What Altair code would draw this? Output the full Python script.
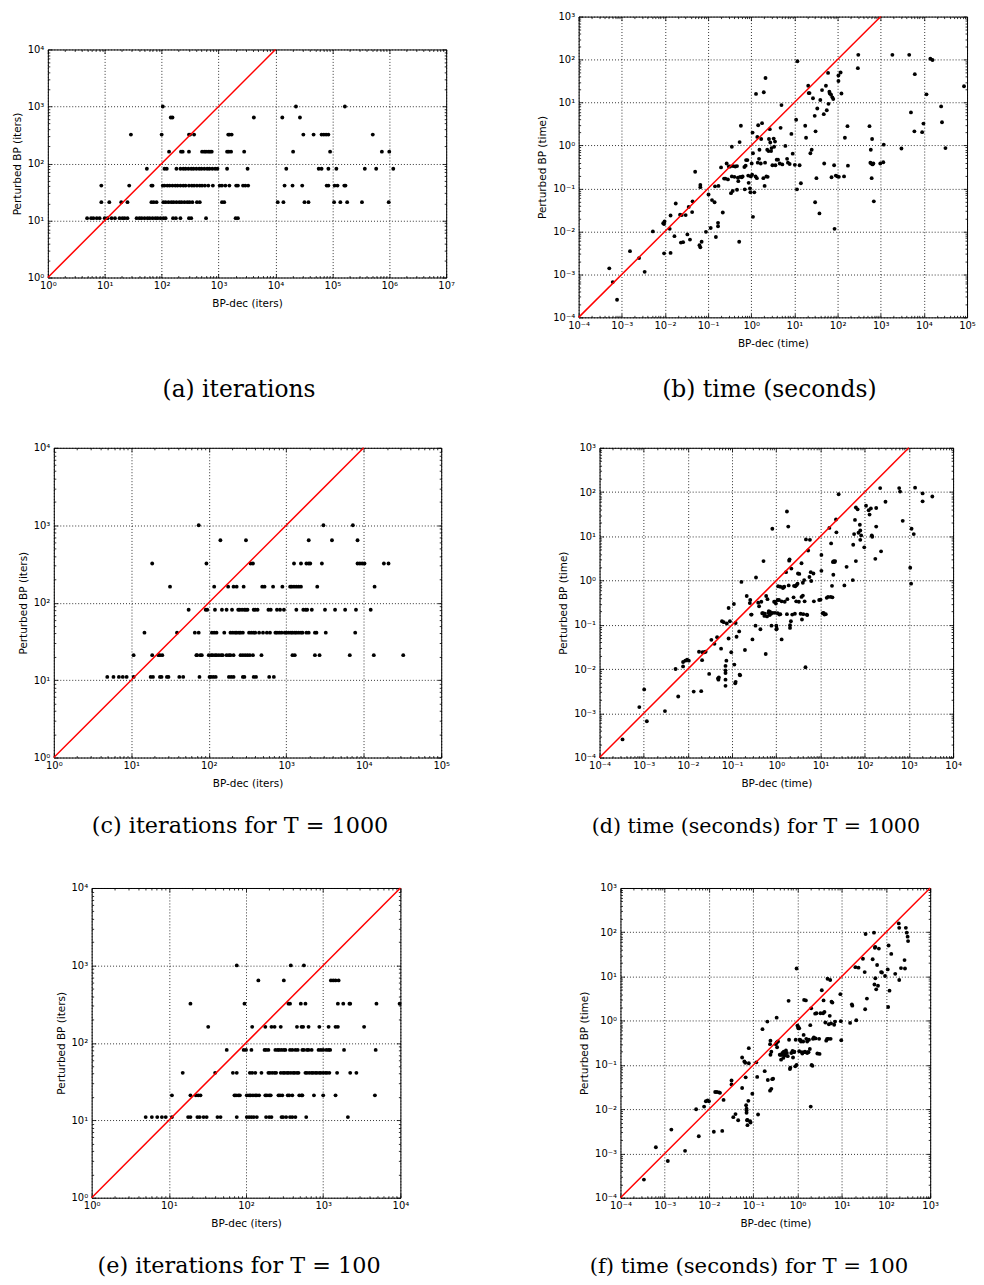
import altair as alt
import pandas as pd

# ---------------- data (log10 positions) ----------------
iter_levels = [11, 21, 41, 81, 161, 321, 641, 1000]  # Perturbed BP iterations

# (a) iterations : BP-dec iterations (log10) for each Perturbed-BP level
a_bpdec_log10 = [
    [0.69, 0.76, 0.80, 0.86, 0.91, 1.00, 1.05, 1.12, 1.18, 1.26, 1.31, 1.35, 1.40, 1.56, 1.61, 1.65, 1.70,
     1.75, 1.79, 1.84, 1.89, 1.93, 1.98, 2.03, 2.07, 2.20, 2.25, 2.33, 2.48, 2.52, 2.78, 3.30, 3.34],
    [0.94, 1.08, 1.29, 1.40, 1.82, 1.86, 1.91, 2.03, 2.07, 2.12, 2.17, 2.21, 2.26, 2.31, 2.35, 2.40, 2.45,
     2.49, 2.54, 2.62, 2.67, 3.06, 3.10, 4.04, 4.14, 4.51, 4.58, 5.03, 5.14, 5.26, 5.52, 5.99],
    [0.94, 1.43, 1.82, 1.84, 2.02, 2.05, 2.10, 2.14, 2.19, 2.24, 2.28, 2.33, 2.38, 2.42, 2.48, 2.53, 2.57,
     2.62, 2.67, 2.71, 2.76, 2.82, 2.90, 3.02, 3.06, 3.12, 3.19, 3.31, 3.34, 3.43, 3.47, 3.52, 4.16, 4.30,
     4.47, 4.90, 4.93, 5.04, 5.09, 5.21, 5.23],
    [1.74, 2.05, 2.09, 2.26, 2.33, 2.38, 2.42, 2.47, 2.52, 2.56, 2.61, 2.66, 2.70, 2.75, 2.80, 2.84, 2.89,
     2.94, 2.98, 3.15, 3.51, 4.19, 4.76, 4.81, 4.93, 5.07, 5.57, 5.77, 6.07],
    [2.13, 2.34, 2.37, 2.48, 2.71, 2.75, 2.78, 2.82, 2.85, 2.88, 3.15, 3.18, 3.22, 3.45, 4.31, 4.96, 5.87, 6.00],
    [1.46, 2.00, 2.48, 2.50, 2.57, 3.17, 3.19, 3.23, 4.49, 4.67, 4.81, 4.85, 4.89, 4.93, 5.71],
    [2.16, 2.19, 3.62, 4.12, 4.43],
    [2.02, 4.36, 5.22],
]

# (c) iterations for T = 1000
c_bpdec_log10 = [
    [0.69, 0.77, 0.84, 0.89, 0.94, 1.03, 1.25, 1.28, 1.37, 1.39, 1.46, 1.48, 1.62, 1.67, 1.88, 2.01, 2.03,
     2.06, 2.09, 2.26, 2.29, 2.32, 2.44, 2.46, 2.58, 2.61, 2.78, 2.84],
    [1.03, 1.27, 1.35, 1.37, 1.40, 1.84, 1.85, 1.89, 1.91, 2.00, 2.03, 2.05, 2.08, 2.10, 2.13, 2.16, 2.18,
     2.23, 2.26, 2.28, 2.32, 2.41, 2.44, 2.47, 2.50, 2.53, 2.57, 2.68, 3.08, 3.11, 3.37, 3.43, 3.82, 4.13, 4.51],
    [1.17, 1.59, 1.82, 1.87, 2.04, 2.07, 2.10, 2.20, 2.28, 2.31, 2.34, 2.36, 2.39, 2.41, 2.44, 2.52, 2.55,
     2.58, 2.60, 2.65, 2.70, 2.75, 2.79, 2.86, 2.88, 2.91, 2.94, 2.98, 3.00, 3.03, 3.06, 3.08, 3.11, 3.13,
     3.16, 3.19, 3.21, 3.26, 3.29, 3.37, 3.39, 3.51, 3.89],
    [1.74, 1.96, 1.98, 2.08, 2.17, 2.23, 2.30, 2.38, 2.40, 2.43, 2.46, 2.48, 2.50, 2.58, 2.60, 2.63, 2.77,
     2.80, 2.88, 2.92, 2.97, 3.13, 3.22, 3.25, 3.27, 3.33, 3.50, 3.63, 3.76, 3.90, 4.09],
    [1.50, 2.07, 2.25, 2.32, 2.36, 2.45, 2.69, 2.72, 2.83, 2.95, 3.05, 3.07, 3.10, 3.13, 3.16, 3.19, 3.40, 4.14],
    [1.27, 1.97, 2.54, 2.57, 3.10, 3.19, 3.26, 3.29, 3.31, 3.46, 3.92, 3.95, 3.98, 4.01, 4.26, 4.32],
    [2.15, 2.48, 3.29, 3.59, 3.92],
    [1.87, 3.48, 3.86],
]

# (e) iterations for T = 100
e_bpdec_log10 = [
    [0.70, 0.78, 0.85, 0.91, 0.96, 1.04, 1.25, 1.28, 1.37, 1.40, 1.45, 1.49, 1.63, 1.67, 1.88, 2.01, 2.04,
     2.07, 2.10, 2.14, 2.26, 2.30, 2.33, 2.46, 2.48, 2.52, 2.57, 2.60, 2.64, 2.78, 3.32],
    [1.04, 1.28, 1.35, 1.38, 1.41, 1.85, 1.87, 1.90, 1.92, 2.01, 2.04, 2.06, 2.09, 2.12, 2.14, 2.17, 2.25,
     2.27, 2.30, 2.32, 2.42, 2.44, 2.47, 2.54, 2.56, 2.60, 2.69, 2.72, 2.73, 2.88, 3.00, 3.16, 3.67],
    [1.18, 1.60, 1.83, 1.88, 2.05, 2.08, 2.12, 2.20, 2.29, 2.31, 2.34, 2.37, 2.39, 2.45, 2.48, 2.50, 2.53,
     2.55, 2.58, 2.61, 2.63, 2.66, 2.68, 2.77, 2.79, 2.82, 2.85, 2.87, 2.90, 2.92, 2.95, 2.97, 3.00, 3.03,
     3.05, 3.08, 3.18, 3.35, 3.43],
    [1.75, 1.97, 2.00, 2.07, 2.24, 2.26, 2.29, 2.38, 2.41, 2.43, 2.46, 2.49, 2.51, 2.57, 2.60, 2.64, 2.67,
     2.73, 2.75, 2.79, 2.81, 2.85, 2.94, 2.97, 3.00, 3.04, 3.07, 3.09, 3.27, 3.68],
    [1.51, 2.08, 2.25, 2.33, 2.37, 2.45, 2.66, 2.72, 2.74, 2.81, 2.95, 3.07, 3.16, 3.19, 3.53],
    [1.28, 1.98, 2.55, 2.57, 2.71, 2.77, 3.19, 3.26, 3.34, 3.35, 3.69, 3.99],
    [2.16, 2.49, 3.10, 3.13, 3.16, 3.20],
    [1.88, 2.58, 2.75],
]

# (b) time (seconds): (log10 BP-dec time, log10 Perturbed BP time)
b_points_log10 = [
    (-3.29, -2.86), (-3.21, -3.18), (-3.11, -3.59), (-2.81, -2.46), (-2.60, -2.62), (-2.47, -2.94),
    (-2.28, -2.00), (-2.04, -1.81), (-2.02, -1.83), (-2.01, -1.77), (-2.02, -2.51), (-1.87, -1.63),
    (-1.89, -1.94), (-1.87, -2.50), (-1.78, -2.11), (-1.75, -1.35), (-1.65, -1.61), (-1.61, -1.62),
    (-1.63, -2.26), (-1.58, -2.25), (-1.52, -1.62), (-1.48, -2.07), (-1.45, -1.43), (-1.42, -2.19),
    (-1.37, -1.55), (-1.36, -1.30), (-1.30, -0.61), (-1.20, -2.32), (-1.18, -2.37), (-1.18, -0.92),
    (-1.18, -0.97), (-1.15, -2.24), (-1.05, -2.01), (-0.99, -1.14), (-0.94, -1.92), (-0.91, -1.27),
    (-0.85, -1.32), (-0.84, -0.95), (-0.82, -2.13), (-0.77, -1.80), (-0.77, -1.88), (-0.76, -0.94),
    (-0.70, -0.51), (-0.66, -1.56), (-0.63, -0.77), (-0.60, -0.77), (-0.57, -0.42), (-0.54, -0.79),
    (-0.52, -0.49), (-0.49, -0.49), (-0.47, -1.11), (-0.45, -0.72), (-0.45, -0.03), (-0.43, -1.06),
    (-0.42, -0.48), (-0.39, -0.73), (-0.37, -0.49), (-0.33, -1.03), (-0.33, -0.48), (-0.31, -0.75),
    (-0.30, -0.83), (-0.28, -2.24), (-0.27, 0.08), (-0.26, -0.73), (-0.24, 0.46), (-0.22, -0.74),
    (-0.20, -0.72), (-0.16, -0.50), (-0.15, -1.02), (-0.13, -0.47), (-0.12, -0.34), (-0.09, -0.34),
    (-0.07, -0.70), (-0.06, -0.87), (-0.03, -1.00), (-0.02, -1.09), (-0.01, -0.72), (0.01, -0.42),
    (0.02, -0.68), (0.03, 0.30), (0.04, -0.18), (0.04, -1.66), (0.07, -1.09), (0.10, -0.72),
    (0.11, 1.20), (0.13, -0.76), (0.14, 0.20), (0.15, -0.40), (0.16, 0.47), (0.18, -0.31),
    (0.19, -0.10), (0.22, -0.42), (0.23, 0.15), (0.25, 0.52), (0.28, -0.76), (0.29, 1.24),
    (0.31, -0.94), (0.32, -0.40), (0.33, 1.57), (0.35, -0.72), (0.37, -0.10), (0.38, -0.73),
    (0.40, -0.13), (0.41, 0.15), (0.43, 0.38), (0.44, 0.07), (0.46, -0.13), (0.47, -0.06),
    (0.49, -0.46), (0.52, 0.16), (0.53, -0.03), (0.55, 0.09), (0.56, -0.46), (0.59, -0.33),
    (0.62, -0.33), (0.66, -0.42), (0.68, 0.41), (0.70, 0.94), (0.72, -0.44), (0.79, -0.01),
    (0.83, -0.31), (0.85, -0.40), (0.89, -0.43), (0.93, 0.27), (0.96, -0.19), (1.01, -0.45),
    (1.04, 0.60), (1.06, -1.02), (1.07, 1.96), (1.12, -0.46), (1.15, -0.88), (1.25, 0.46),
    (1.27, 0.18), (1.32, 1.39), (1.33, 1.22), (1.35, 1.22), (1.37, -0.18), (1.40, -0.10),
    (1.43, 1.10), (1.47, 0.69), (1.48, -1.32), (1.49, 0.33), (1.51, -0.76), (1.53, 0.86),
    (1.58, -1.58), (1.60, 1.06), (1.64, 1.29), (1.68, 0.73), (1.69, -0.42), (1.73, 1.39),
    (1.75, 0.82), (1.78, 1.69), (1.79, 0.97), (1.81, 1.25), (1.82, 1.21), (1.85, 1.18),
    (1.86, -0.74), (1.88, 1.12), (1.90, 1.08), (1.92, -0.46), (1.93, -1.94), (1.96, -0.70),
    (2.00, -0.72), (2.02, 1.63), (2.02, 1.50), (2.03, -0.73), (2.07, 1.70), (2.09, 1.21),
    (2.15, -0.72), (2.17, 0.18), (2.23, 0.45), (2.24, -0.47), (2.47, 1.80), (2.48, 2.11),
    (2.74, 0.45), (2.76, -0.40), (2.77, -0.10), (2.78, -0.42), (2.79, -0.76), (2.80, 0.15),
    (2.81, -0.44), (2.83, -0.42), (2.84, -1.30), (2.99, -0.42), (3.06, -0.39), (3.07, 0.02),
    (3.27, 2.11), (3.48, -0.07), (3.66, 2.11), (3.70, 0.77), (3.79, 1.66), (3.78, 0.33),
    (3.96, 0.31), (3.99, 0.51), (4.06, 1.19), (4.15, 2.02), (4.20, 1.99), (4.40, 0.91),
    (4.42, 0.54), (4.50, -0.06), (4.93, 1.38),
]

# (d) time (seconds) for T = 1000
d_points_log10 = [
    (-3.48, -3.59), (-3.10, -2.86), (-2.99, -2.46), (-2.93, -3.18), (-2.52, -2.95), (-2.28, -2.00),
    (-2.22, -2.62), (-2.11, -1.94), (-2.11, -1.84), (-2.06, -1.81), (-2.02, -1.79), (-1.98, -1.81),
    (-1.87, -2.51), (-1.75, -1.61), (-1.70, -2.50), (-1.68, -1.80), (-1.67, -1.62), (-1.63, -1.62),
    (-1.60, -1.61), (-1.52, -2.11), (-1.47, -1.34), (-1.40, -1.43), (-1.34, -1.28), (-1.32, -2.21),
    (-1.31, -2.24), (-1.30, -2.19), (-1.25, -1.54), (-1.23, -0.92), (-1.19, -0.94), (-1.15, -1.93),
    (-1.15, -2.03), (-1.15, -2.09), (-1.15, -2.24), (-1.15, -2.38), (-1.13, -1.81), (-1.12, -0.97),
    (-1.08, -1.31), (-1.08, -0.62), (-1.05, -0.92), (-1.02, -1.62), (-0.96, -0.53), (-0.95, -1.90),
    (-0.93, -2.32), (-0.92, -2.29), (-0.92, -0.96), (-0.90, -1.27), (-0.84, -1.15), (-0.83, -2.13),
    (-0.82, -2.14), (-0.79, -0.03), (-0.71, -1.57), (-0.67, -0.35), (-0.60, -0.51), (-0.59, -0.44),
    (-0.57, -0.77), (-0.56, -0.77), (-0.54, -1.33), (-0.47, -1.02), (-0.46, 0.07), (-0.41, -0.50),
    (-0.39, -0.58), (-0.36, -1.10), (-0.34, -0.48), (-0.32, -0.74), (-0.30, -0.74), (-0.29, 0.44),
    (-0.27, -0.80), (-0.26, -0.75), (-0.24, -1.66), (-0.23, -0.35), (-0.21, -0.81), (-0.20, -0.42),
    (-0.18, -0.73), (-0.17, -0.69), (-0.15, -0.78), (-0.14, -0.71), (-0.12, -0.75), (-0.11, -1.02),
    (-0.09, 1.17), (-0.08, -0.73), (-0.05, -0.48), (-0.03, -0.48), (-0.03, -0.73), (-0.01, -0.52),
    (0.00, -1.02), (0.00, -1.10), (0.01, -1.09), (0.03, -0.44), (0.03, -0.74), (0.04, -0.13),
    (0.06, -0.44), (0.07, -0.77), (0.09, -0.76), (0.09, -0.14), (0.12, -0.47), (0.12, -1.33),
    (0.15, -0.17), (0.16, -0.15), (0.18, -0.14), (0.19, -0.48), (0.22, 0.19), (0.24, -0.76),
    (0.24, 1.56), (0.25, -0.42), (0.27, 1.22), (0.28, -0.11), (0.29, 0.45), (0.30, 0.48),
    (0.31, -1.07), (0.31, -1.01), (0.33, -0.92), (0.34, 0.27), (0.36, -0.77), (0.39, -0.38),
    (0.40, -0.12), (0.42, -0.75), (0.43, -0.13), (0.45, -0.47), (0.46, -0.10), (0.48, -0.07),
    (0.49, 0.16), (0.51, -0.48), (0.52, 0.15), (0.55, -0.75), (0.57, -0.37), (0.57, 0.39),
    (0.58, -0.88), (0.60, -0.05), (0.60, -0.34), (0.61, -0.76), (0.63, 0.01), (0.64, -0.47),
    (0.66, -1.96), (0.67, 0.93), (0.69, -0.77), (0.70, -0.78), (0.72, 0.68), (0.75, 0.08),
    (0.76, 0.92), (0.78, 0.19), (0.79, -0.01), (0.84, 0.16), (0.85, -0.47), (0.97, -0.44),
    (1.00, -0.43), (1.02, 0.58), (1.02, 0.22), (1.05, -0.74), (1.07, -0.73), (1.09, -0.77),
    (1.12, -0.76), (1.14, -0.39), (1.17, -0.37), (1.20, 1.19), (1.23, -0.37), (1.24, 0.84),
    (1.26, -0.12), (1.27, -0.38), (1.28, 0.42), (1.29, 0.13), (1.30, 0.44), (1.32, 0.42),
    (1.33, 0.44), (1.35, 1.38), (1.36, 1.09), (1.41, 1.95), (1.54, -0.11), (1.59, 0.31),
    (1.73, 0.01), (1.74, 0.81), (1.76, 1.05), (1.78, 1.37), (1.80, 0.44), (1.80, 1.65),
    (1.84, 1.61), (1.86, 1.08), (1.89, 1.26), (1.90, 0.92), (1.90, 1.13), (1.92, 1.02),
    (1.99, 0.75), (2.03, 1.69), (2.09, 1.59), (2.11, 1.49), (2.14, 1.63), (2.16, 1.02),
    (2.17, 0.99), (2.24, 0.49), (2.26, 1.22), (2.26, 1.64), (2.35, 2.09), (2.37, 0.66),
    (2.47, 1.78), (2.78, 2.09), (2.80, 2.01), (2.86, 1.35), (3.03, 0.29), (3.05, -0.07),
    (3.06, 1.17), (3.11, 1.05), (3.14, 2.10), (3.31, 1.97), (3.31, 1.79), (3.53, 1.90),
]

# (f) time (seconds) for T = 100
f_points_log10 = [
    (-3.47, -3.59), (-3.20, -2.86), (-2.93, -3.17), (-2.85, -2.46), (-2.54, -2.94), (-2.29, -2.00),
    (-2.23, -2.61), (-2.11, -1.94), (-2.07, -1.82), (-2.03, -1.80), (-2.00, -1.82), (-1.89, -2.51),
    (-1.86, -1.61), (-1.82, -1.61), (-1.77, -1.62), (-1.75, -1.63), (-1.70, -2.49), (-1.67, -1.79),
    (-1.49, -1.35), (-1.49, -1.44), (-1.45, -2.18), (-1.40, -2.11), (-1.34, -2.25), (-1.25, -1.52),
    (-1.25, -0.83), (-1.20, -0.92), (-1.18, -0.95), (-1.17, -1.28), (-1.16, -1.91), (-1.15, -1.99),
    (-1.15, -2.03), (-1.15, -2.08), (-1.14, -2.25), (-1.13, -2.36), (-1.13, -2.24), (-1.11, -1.81),
    (-1.10, -0.96), (-1.10, -0.62), (-1.07, -2.27), (-1.06, -2.30), (-1.02, -1.65), (-0.93, -0.94),
    (-0.91, -1.27), (-0.89, -2.12), (-0.79, -0.19), (-0.74, -1.14), (-0.68, -0.02), (-0.67, -1.34),
    (-0.62, -1.58), (-0.62, -0.53), (-0.61, -0.45), (-0.61, -0.77), (-0.59, -0.70), (-0.59, -1.54),
    (-0.57, -1.32), (-0.55, -1.31), (-0.49, -0.53), (-0.47, 0.07), (-0.47, -0.49), (-0.46, -0.60),
    (-0.44, -0.47), (-0.40, -0.77), (-0.38, -0.77), (-0.37, -0.88), (-0.35, -0.77), (-0.34, -0.73),
    (-0.32, -0.84), (-0.31, -0.70), (-0.29, -0.79), (-0.28, -0.75), (-0.26, -0.67), (-0.24, -0.73),
    (-0.22, -0.80), (-0.20, 0.45), (-0.19, -0.43), (-0.17, -1.09), (-0.16, -1.06), (-0.14, -0.73),
    (-0.11, -0.68), (-0.10, -0.83), (-0.08, -0.71), (-0.07, -0.70), (-0.05, -1.03), (-0.04, -0.43),
    (-0.02, -1.00), (-0.02, 1.18), (0.00, -0.11), (0.01, -0.13), (0.02, -0.17), (0.04, -0.17),
    (0.04, -0.69), (0.05, -0.43), (0.07, -0.44), (0.08, -0.47), (0.10, -0.71), (0.11, -0.74),
    (0.13, -0.47), (0.14, -0.32), (0.15, 0.47), (0.16, -0.71), (0.17, -0.70), (0.19, 0.46),
    (0.20, -0.41), (0.22, -0.73), (0.22, -0.47), (0.23, -0.71), (0.25, -0.71), (0.26, -0.43),
    (0.28, -0.64), (0.29, -0.10), (0.30, -1.94), (0.31, 0.28), (0.32, -1.00), (0.34, -1.02),
    (0.35, -0.41), (0.37, -0.38), (0.38, -0.40), (0.40, 0.16), (0.41, -0.40), (0.43, 0.17),
    (0.45, -0.74), (0.49, -0.41), (0.50, -0.75), (0.52, 0.17), (0.55, 0.69), (0.58, 0.17),
    (0.59, 0.46), (0.61, 0.20), (0.63, -0.04), (0.65, -0.45), (0.67, -0.41), (0.68, 0.95),
    (0.70, -0.41), (0.71, -0.08), (0.73, 0.11), (0.74, 0.92), (0.75, -0.41), (0.76, -0.06),
    (0.77, 0.43), (0.79, 0.41), (0.83, -0.09), (0.85, -0.02), (0.97, 0.60), (0.98, -0.01),
    (0.99, -0.44), (1.19, -0.05), (1.23, 0.37), (1.24, 0.34), (1.33, 0.01), (1.31, 1.21),
    (1.38, 1.20), (1.48, 1.40), (1.52, 1.10), (1.53, 0.26), (1.54, 1.96), (1.57, 0.50),
    (1.70, 1.39), (1.73, 1.99), (1.74, 0.82), (1.75, 1.65), (1.76, 1.67), (1.78, 0.71),
    (1.76, 0.96), (1.80, 1.26), (1.82, 0.79), (1.84, 1.63), (1.89, 1.10), (1.91, 1.09),
    (1.98, 1.01), (2.04, 1.16), (2.05, 0.31), (2.06, 1.70), (2.08, 0.68), (2.12, 1.51),
    (2.21, 1.06), (2.30, 0.92), (2.34, 1.19), (2.29, 2.20), (2.30, 2.10), (2.42, 1.37),
    (2.43, 1.18), (2.45, 2.10), (2.47, 1.99), (2.49, 1.90), (2.50, 1.80),
]

# axis decades (major tick positions)
a_x_ticks = [1e0, 1e1, 1e2, 1e3, 1e4, 1e5, 1e6, 1e7]
a_y_ticks = [1e0, 1e1, 1e2, 1e3, 1e4]
b_x_ticks = [1e-4, 1e-3, 1e-2, 1e-1, 1e0, 1e1, 1e2, 1e3, 1e4, 1e5]
b_y_ticks = [1e-4, 1e-3, 1e-2, 1e-1, 1e0, 1e1, 1e2, 1e3]
c_x_ticks = [1e0, 1e1, 1e2, 1e3, 1e4, 1e5]
c_y_ticks = [1e0, 1e1, 1e2, 1e3, 1e4]
d_x_ticks = [1e-4, 1e-3, 1e-2, 1e-1, 1e0, 1e1, 1e2, 1e3, 1e4]
d_y_ticks = [1e-4, 1e-3, 1e-2, 1e-1, 1e0, 1e1, 1e2, 1e3]
e_x_ticks = [1e0, 1e1, 1e2, 1e3, 1e4]
e_y_ticks = [1e0, 1e1, 1e2, 1e3, 1e4]
f_x_ticks = [1e-4, 1e-3, 1e-2, 1e-1, 1e0, 1e1, 1e2, 1e3]
f_y_ticks = [1e-4, 1e-3, 1e-2, 1e-1, 1e0, 1e1, 1e2, 1e3]
minor_multipliers = [2, 3, 4, 5, 6, 7, 8, 9]

# y = x reference line endpoints
iters_diag = [1e0, 1e4]
time_diag = [1e-4, 1e3]

# ---------------- helpers ----------------
SUP = {"-": "\u207b", "0": "\u2070", "1": "\u00b9", "2": "\u00b2", "3": "\u00b3", "4": "\u2074",
       "5": "\u2075", "6": "\u2076", "7": "\u2077", "8": "\u2078", "9": "\u2079"}
expr = "'' + round(log(datum.value) / LN10)"
for k, v in SUP.items():
    expr = f"replace({expr}, '{k}', '{v}')"
POW_LABEL = "'10' + " + expr


def iters_frame(xs_by_level):
    rows = [(10 ** lx, lvl) for lvl, xs in zip(iter_levels, xs_by_level) for lx in xs]
    return pd.DataFrame(rows, columns=["x", "y"])


def time_frame(points):
    return pd.DataFrame([(10 ** px, 10 ** py) for px, py in points], columns=["x", "y"])


def minor(ticks):
    return [t * m for t in ticks[:-1] for m in minor_multipliers]


def main_axis(ticks, title, pad, tpad):
    return alt.Axis(values=ticks, grid=True, gridColor="black", gridDash=[1, 2], gridWidth=0.8,
                    ticks=False, tickSize=0, domain=False, labelExpr=POW_LABEL,
                    labelFont="DejaVu Sans", labelFontSize=10, labelColor="black", labelPadding=pad,
                    labelFlush=False, labelOverlap=False, title=title, titleFont="DejaVu Sans",
                    titleFontSize=10.5, titleFontWeight="normal", titleColor="black", titlePadding=tpad)


def tick_axis(orient, values, size):
    # ticks pointing into the plot, as in the original figure
    return alt.Axis(orient=orient, values=values, labels=False, ticks=True, tickSize=size,
                    tickColor="black", tickWidth=0.8, domain=False, grid=False, offset=-size,
                    title=None)


def panel(df, xticks, yticks, xtitle, ytitle, diag, w, h, caption, cap_size, cap_offset, cap_dx):
    xs = alt.Scale(type="log", domain=[xticks[0], xticks[-1]], nice=False)
    ys = alt.Scale(type="log", domain=[yticks[0], yticks[-1]], nice=False)
    diag_df = pd.DataFrame({"x": [diag[0]], "y": [diag[0]], "x2": [diag[1]], "y2": [diag[1]]})
    corner_df = pd.DataFrame({"x": [xticks[0]], "y": [yticks[0]]})

    pts = alt.Chart(df).mark_circle(size=15, color="black", opacity=1).encode(
        x=alt.X("x:Q", scale=xs, axis=main_axis(xticks, xtitle, 3, 8)),
        y=alt.Y("y:Q", scale=ys, axis=main_axis(yticks, ytitle, 4, 5)))
    line = alt.Chart(diag_df).mark_rule(color="#ff0000", stroke="#ff0000", strokeWidth=1.5).encode(
        x=alt.X("x:Q", scale=xs, axis=tick_axis("bottom", xticks, 4)),
        y=alt.Y("y:Q", scale=ys, axis=tick_axis("left", yticks, 4)),
        x2="x2:Q", y2="y2:Q")
    layers = [pts, line]
    for xo, yo, xv, yv, size in [("top", "right", xticks, yticks, 4),
                                 ("bottom", "left", minor(xticks), minor(yticks), 2),
                                 ("top", "right", minor(xticks), minor(yticks), 2)]:
        layers.append(alt.Chart(corner_df).mark_point(opacity=0, size=0).encode(
            x=alt.X("x:Q", scale=xs, axis=tick_axis(xo, xv, size)),
            y=alt.Y("y:Q", scale=ys, axis=tick_axis(yo, yv, size))))
    return alt.layer(*layers).resolve_axis(x="independent", y="independent").properties(
        width=w, height=h,
        title=alt.TitleParams(text=caption, orient="bottom", anchor="middle", frame="group",
                              offset=cap_offset, dx=cap_dx, font="DejaVu Serif", fontSize=cap_size,
                              fontWeight="normal", color="black"))


def spacer(w, h):
    return alt.Chart(pd.DataFrame({"v": [0]})).mark_point(opacity=0, size=0).encode(
        x=alt.value(0), y=alt.value(0)).properties(
        width=w, height=h, view=alt.ViewBackground(stroke="transparent"))


pa = panel(iters_frame(a_bpdec_log10), a_x_ticks, a_y_ticks, "BP-dec (iters)", "Perturbed BP (iters)",
           iters_diag, 400, 229, "(a) iterations", 23.4, 70, -8)
pb = panel(time_frame(b_points_log10), b_x_ticks, b_y_ticks, "BP-dec (time)", "Perturbed BP (time)",
           time_diag, 390, 302, "(b) time (seconds)", 23.5, 29.5, -3.5)
pc = panel(iters_frame(c_bpdec_log10), c_x_ticks, c_y_ticks, "BP-dec (iters)", "Perturbed BP (iters)",
           iters_diag, 389, 311, "(c) iterations for T = 1000", 22.4, 26.5, -7.5)
pd_ = panel(time_frame(d_points_log10), d_x_ticks, d_y_ticks, "BP-dec (time)", "Perturbed BP (time)",
            time_diag, 355, 311, "(d) time (seconds) for T = 1000", 20.7, 28.4, -20.5)
pe = panel(iters_frame(e_bpdec_log10), e_x_ticks, e_y_ticks, "BP-dec (iters)", "Perturbed BP (iters)",
           iters_diag, 310, 311, "(e) iterations for T = 100", 22.4, 26, -7)
pf = panel(time_frame(f_points_log10), f_x_ticks, f_y_ticks, "BP-dec (time)", "Perturbed BP (time)",
           time_diag, 311, 311, "(f) time (seconds) for T = 100", 21.3, 26.6, -26.5)

col_a = alt.vconcat(spacer(1, 26), pa, spacing=0)
row1 = alt.hconcat(spacer(1, 1), col_a, spacer(80, 1), pb, spacing=0)
row2 = alt.hconcat(spacer(7, 1), pc, spacer(106, 1), pd_, spacing=0)
row3 = alt.hconcat(spacer(45, 1), pe, spacer(168, 1), pf, spacing=0)

chart = alt.vconcat(row1, spacer(1, 38), row2, spacer(1, 42), row3, spacing=0).properties(
    padding=0, background="white"
).configure_view(stroke="black", strokeWidth=1)

chart.save("out.html", embed_options={"renderer": "svg", "actions": False})
